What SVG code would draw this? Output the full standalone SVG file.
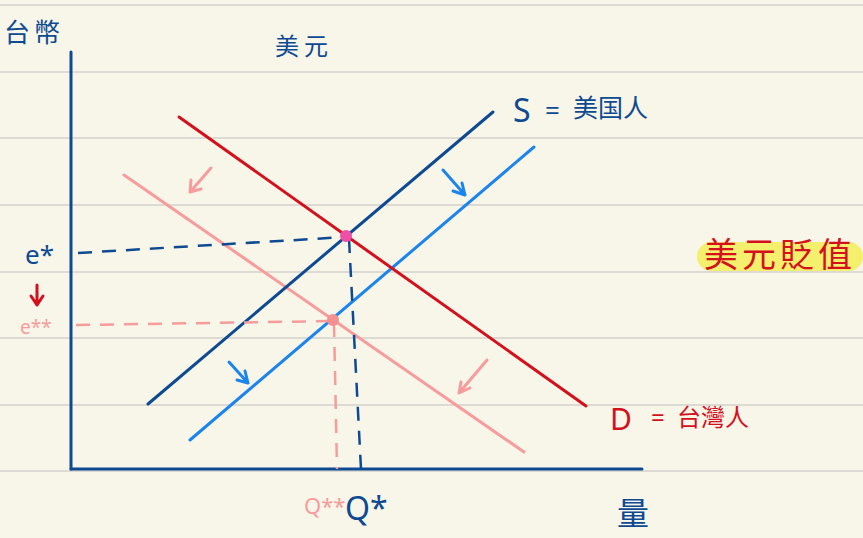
<svg xmlns="http://www.w3.org/2000/svg" width="863" height="538" viewBox="0 0 863 538">
<defs>
<style>
.rule{stroke:#dcdad3;stroke-width:2}
.ln{fill:none;stroke-width:3;stroke-linecap:round}
.db{stroke:#0d4a92}
.bb{stroke:#1c84ee}
.rd{stroke:#d3101c}
.pk{stroke:#f79c9c}
.dash{stroke-dasharray:14 10;stroke-width:2.5;fill:none}
.cjk{font-family:"Noto Sans CJK TC","Noto Sans CJK SC",sans-serif}
.lat{font-family:"Noto Sans","Liberation Sans",sans-serif}
</style>
</defs>
<rect width="863" height="538" fill="#f8f5e9"/>
<g id="ruled">
<line class="rule" x1="0" y1="5" x2="863" y2="5"/>
<line class="rule" x1="0" y1="72" x2="863" y2="72"/>
<line class="rule" x1="0" y1="138" x2="863" y2="138"/>
<line class="rule" x1="0" y1="205" x2="863" y2="205"/>
<line class="rule" x1="0" y1="272" x2="863" y2="272"/>
<line class="rule" x1="0" y1="338" x2="863" y2="338"/>
<line class="rule" x1="0" y1="405" x2="863" y2="405"/>
<line class="rule" x1="0" y1="471" x2="863" y2="471"/>
</g>
<rect x="697" y="242" width="166" height="29" rx="14.5" fill="#f5ef6e"/>
<g id="axes">
<line class="ln db" x1="71" y1="52" x2="71" y2="469"/>
<line class="ln db" x1="71" y1="469" x2="642" y2="469"/>
</g>
<g id="connectors">
<line class="ln pk" x1="124" y1="175" x2="524" y2="452"/>
<line class="ln bb" x1="190" y1="440" x2="534" y2="147"/>
<line class="ln db" x1="148" y1="404" x2="493" y2="112"/>
<line class="ln rd" x1="179" y1="117" x2="586" y2="406"/>
<path class="dash db" d="M78 253 L346 237 M349 239 L361 469"/>
<path class="dash pk" d="M76 325 L333 321 M334 323 L337 469"/>
<path class="ln pk" d="M211 168 L190 192 M190 192 L191 180 M190 192 L201 189"/>
<path class="ln bb" d="M443 170 L465 195 M465 195 L462 183 M465 195 L453 191"/>
<path class="ln bb" d="M229 362 L248 383 M248 383 L245 371 M248 383 L237 380"/>
<path class="ln pk" d="M487 360 L459 393 M459 393 L461 382 M459 393 L470 388"/>
<path class="ln rd" d="M37 285 L37 305 M37 305 L31 296 M37 305 L43 296"/>
</g>
<g id="points">
<circle cx="346" cy="236" r="6" fill="#ee4fa6"/>
<circle cx="333" cy="320" r="6" fill="#f39191"/>
</g>
<g id="labels">
<text class="cjk" x="4" y="42" font-size="26" letter-spacing="4" fill="#0d4a92">台幣</text>
<text class="cjk" x="275" y="55" font-size="24" letter-spacing="5" fill="#0d4a92">美元</text>
<text class="lat" x="513" y="122" font-size="32" fill="#0d4a92">S</text>
<text class="lat" x="545" y="120" font-size="26" fill="#0d4a92">=</text>
<text class="cjk" x="573" y="117" font-size="25" fill="#0d4a92">美国人</text>
<text class="cjk" x="704" y="267" font-size="34" letter-spacing="4" fill="#d3101c">美元貶值</text>
<text class="lat" x="25" y="264" font-size="26" fill="#0d4a92">e*</text>
<text class="lat" x="20" y="334" font-size="19" fill="#f79c9c">e**</text>
<text class="lat" x="610" y="430" font-size="30" fill="#d3101c">D</text>
<text class="lat" x="651" y="426" font-size="24" fill="#d3101c">=</text>
<text class="cjk" x="677" y="426" font-size="24" fill="#d3101c">台灣人</text>
<text class="lat" x="304" y="514" font-size="22" fill="#f79c9c">Q**</text>
<text class="lat" x="345" y="520" font-size="32" fill="#0d4a92">Q*</text>
<text class="cjk" x="617" y="525" font-size="32" fill="#0d4a92">量</text>
</g>
</svg>
